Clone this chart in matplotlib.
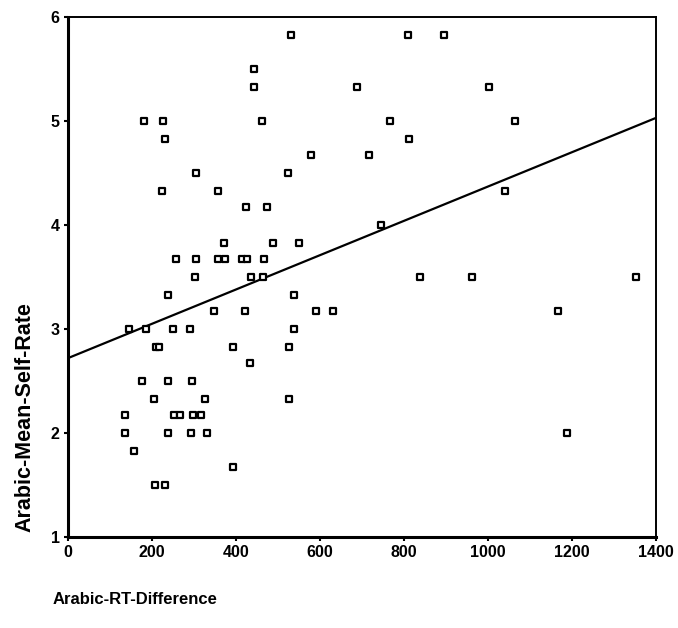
import matplotlib
matplotlib.use('Agg')
import matplotlib.pyplot as plt
import numpy as np

# Arabic RT difference vs mean self-rating
rt_diff = [530, 444, 444, 688, 180, 227, 462, 232, 579, 304, 524, 223, 356, 424, 474,
           371, 488, 550, 258, 304, 358, 374, 414, 426, 467, 302, 436, 464, 238, 539,
           347, 421, 591, 630, 145, 186, 249, 291, 539, 210, 216, 394, 525, 433,
           175, 238, 296, 204, 326, 526, 136, 252, 266, 298, 316,
           136, 238, 292, 332, 158, 392, 208, 230,
           810, 895, 1003, 767, 1064, 813, 716, 1040, 746, 838, 963, 1352, 1167, 1189]
self_rate = [5.83, 5.5, 5.33, 5.33, 5.0, 5.0, 5.0, 4.83, 4.67, 4.5, 4.5, 4.33, 4.33, 4.17, 4.17,
             3.83, 3.83, 3.83, 3.67, 3.67, 3.67, 3.67, 3.67, 3.67, 3.67, 3.5, 3.5, 3.5, 3.33, 3.33,
             3.17, 3.17, 3.17, 3.17, 3.0, 3.0, 3.0, 3.0, 3.0, 2.83, 2.83, 2.83, 2.83, 2.67,
             2.5, 2.5, 2.5, 2.33, 2.33, 2.33, 2.17, 2.17, 2.17, 2.17, 2.17,
             2.0, 2.0, 2.0, 2.0, 1.83, 1.67, 1.5, 1.5,
             5.83, 5.83, 5.33, 5.0, 5.0, 4.83, 4.67, 4.33, 4.0, 3.5, 3.5, 3.5, 3.17, 2.0]

# fit line
intercept = 2.72
slope = 0.00165

x_ticks = [0, 200, 400, 600, 800, 1000, 1200, 1400]
y_ticks = [1, 2, 3, 4, 5, 6]

plt.rcParams['font.family'] = ['Liberation Sans', 'DejaVu Sans']

fig = plt.figure(figsize=(6.78, 6.28), dpi=100)
ax = fig.add_axes([68/678, 1 - 537/628, (656 - 68)/678, (537 - 17)/628])

ax.scatter(rt_diff, self_rate, marker='s', s=20, facecolors='white',
           edgecolors='black', linewidths=1.6, zorder=3)

xs = np.array([0, 1400])
ax.plot(xs, intercept + slope * xs, color='black', lw=1.6, zorder=2)

ax.set_xlim(0, 1400)
ax.set_ylim(1, 6)
ax.set_xticks(x_ticks)
ax.set_yticks(y_ticks)
ax.tick_params(direction='out', length=3, width=1.5, labelsize=11.5, pad=3)
for lab in ax.get_xticklabels() + ax.get_yticklabels():
    lab.set_fontweight('bold')

for s in ['left', 'bottom']:
    ax.spines[s].set_linewidth(2.2)
for s in ['top', 'right']:
    ax.spines[s].set_linewidth(1.4)

fig.text(25/678, 1 - 417/628, 'Arabic-Mean-Self-Rate', rotation=90, ha='center',
         va='center', fontsize=15.5, fontweight='bold')
fig.text(53/678, 1 - 600/628, 'Arabic-RT-Difference', ha='left', va='center',
         fontsize=12, fontweight='bold')

fig.savefig('out.png', dpi=100)
